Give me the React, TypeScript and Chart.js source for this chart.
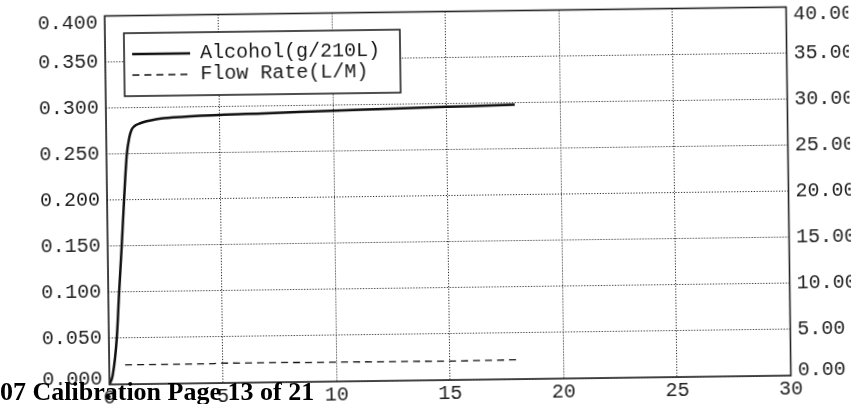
import React, { useEffect, useRef } from "react";
import { Chart, registerables } from "chart.js";

Chart.register(...registerables);

// Alcohol curve (time in seconds, g/210L)
const alcoholTime = [0, 0.15, 0.35, 0.48, 0.62, 0.75, 0.9, 1.02, 1.12, 1.25, 1.5, 2.2, 3, 5, 7, 10, 12, 14, 16, 18];
const alcoholValues = [0, 0.01, 0.05, 0.1, 0.15, 0.2, 0.25, 0.268, 0.276, 0.28, 0.283, 0.287, 0.289, 0.291, 0.292, 0.294, 0.295, 0.296, 0.297, 0.298];

// Flow rate (L/M)
const flowTime = [0.7, 4.6, 4.8, 10, 15, 18];
const flowValues = [2.1, 2.1, 2.15, 2.1, 2.05, 2.1];

// Tick values
const xTicks = [0, 5, 10, 15, 20, 25, 30];
const alcoholTicks = [0, 0.05, 0.1, 0.15, 0.2, 0.25, 0.3, 0.35, 0.4];
const flowTicks = [0, 5, 10, 15, 20, 25, 30, 35, 40];

const seriesLabels = ["Alcohol(g/210L)", "Flow Rate(L/M)"];
const pageText = "07 Calibration Page 13 of 21";

const MONO = '"Liberation Mono", "DejaVu Sans Mono", monospace';

// keeps the end labels of the value axes inside the frame (as in the reference)
const endLabelPlugin = {
  id: "endLabels",
  beforeDraw(chart: any) {
    ["y", "y2"].forEach((id) => {
      const s = chart.scales[id];
      if (!s || !s.getLabelItems) return;
      const items = s.getLabelItems();
      if (!items || !items.length) return;
      const n = items.length;
      const shift = (it: any, dy: number) => {
        if (it && it.options && it.options.translation) {
          it.options.translation = [it.options.translation[0], it.options.translation[1] + dy];
        }
      };
      if (!s.$shifted) {
        shift(items[n - 1], 7);
        shift(items[0], -5);
        s.$shifted = true;
      }
    });
  },
};

const framePlugin = {
  id: "frame",
  afterDatasetsDraw(chart: any) {
    const { ctx, chartArea } = chart;
    ctx.save();
    ctx.strokeStyle = "#222";
    ctx.lineWidth = 1.6;
    ctx.setLineDash([]);
    ctx.strokeRect(chartArea.left, chartArea.top, chartArea.right - chartArea.left, chartArea.bottom - chartArea.top);
    ctx.restore();
  },
};

const boxLegendPlugin = {
  id: "boxLegend",
  afterDraw(chart: any) {
    const { ctx, chartArea } = chart;
    const x = chartArea.left + 19;
    const y = chartArea.top + 17.5;
    const w = 276;
    const h = 63;
    ctx.save();
    ctx.fillStyle = "#fff";
    ctx.fillRect(x, y, w, h);
    ctx.strokeStyle = "#222";
    ctx.lineWidth = 1.6;
    ctx.setLineDash([]);
    ctx.strokeRect(x, y, w, h);
    chart.data.datasets.forEach((ds: any, i: number) => {
      const ry = y + 21 + i * 21;
      ctx.beginPath();
      ctx.setLineDash(ds.borderDash || []);
      ctx.lineWidth = ds.borderWidth;
      ctx.strokeStyle = ds.borderColor;
      ctx.moveTo(x + 8, ry);
      ctx.lineTo(x + 66, ry);
      ctx.stroke();
      ctx.setLineDash([]);
      ctx.fillStyle = "#1a1a1a";
      ctx.font = `20px ${MONO}`;
      ctx.textBaseline = "middle";
      ctx.textAlign = "left";
      ctx.fillText(ds.label, x + 76, ry);
    });
    ctx.restore();
  },
};

export default function App() {
  const ref = useRef<HTMLCanvasElement | null>(null);

  useEffect(() => {
    if (!ref.current) return;
    const gridColor = "rgba(20,20,20,0.9)";
    const tickFont = { family: MONO, size: 20 };
    const chart = new Chart(ref.current, {
      type: "line",
      data: {
        datasets: [
          {
            label: seriesLabels[0],
            data: alcoholTime.map((t, i) => ({ x: t, y: alcoholValues[i] })),
            borderColor: "#111",
            borderWidth: 2.5,
            pointRadius: 0,
            cubicInterpolationMode: "monotone",
            yAxisID: "y",
          },
          {
            label: seriesLabels[1],
            data: flowTime.map((t, i) => ({ x: t, y: flowValues[i] })),
            borderColor: "#111",
            borderWidth: 1.3,
            borderDash: [7, 5],
            pointRadius: 0,
            yAxisID: "y2",
          },
        ],
      },
      options: {
        responsive: false,
        animation: false,
        layout: { padding: { top: 11.5, left: 0, right: 0, bottom: 0 } },
        plugins: {
          legend: { display: false },
          tooltip: { enabled: false },
          title: { display: false },
        },
        scales: {
          x: {
            type: "linear",
            min: 0,
            max: 30,
            afterBuildTicks: (s: any) => {
              s.ticks = xTicks.map((v) => ({ value: v }));
            },
            afterFit: (s: any) => {
              s.height = 24;
            },
            ticks: { font: tickFont, color: "#222", padding: 2, maxRotation: 0, autoSkip: false },
            grid: { color: gridColor, lineWidth: 1, drawTicks: false },
            border: { display: false, dash: [1.2, 1.6] },
          },
          y: {
            type: "linear",
            position: "left",
            min: 0,
            max: 0.4,
            afterBuildTicks: (s: any) => {
              s.ticks = alcoholTicks.map((v) => ({ value: v }));
            },
            afterFit: (s: any) => {
              s.width = 107;
              s.paddingTop = 0;
              s.paddingBottom = 0;
            },
            ticks: {
              font: tickFont,
              color: "#222",
              padding: 7,
              callback: (v: any) => Number(v).toFixed(3),
            },
            grid: { color: gridColor, lineWidth: 1, drawTicks: false },
            border: { display: false, dash: [1.2, 1.6] },
          },
          y2: {
            type: "linear",
            position: "right",
            min: 0,
            max: 40,
            afterBuildTicks: (s: any) => {
              s.ticks = flowTicks.map((v) => ({ value: v }));
            },
            afterFit: (s: any) => {
              s.width = 62.5;
              s.paddingTop = 0;
              s.paddingBottom = 0;
            },
            ticks: {
              font: tickFont,
              color: "#222",
              padding: 7,
              callback: (v: any) => Number(v).toFixed(2),
            },
            grid: { display: false, drawTicks: false },
            border: { display: false },
          },
        },
      } as any,
      plugins: [endLabelPlugin, framePlugin, boxLegendPlugin],
    });
    return () => chart.destroy();
  }, []);

  return (
    <div
      style={{
        position: "fixed",
        left: 0,
        top: 0,
        width: 851,
        height: 404,
        overflow: "hidden",
        background: "#fff",
      }}
    >
      <canvas
        ref={ref}
        width={851}
        height={404}
        style={{
          position: "absolute",
          left: 0,
          top: 0,
          width: 851,
          height: 404,
          display: "block",
          transform: "rotate(-0.75deg)",
          transformOrigin: "448px 196px",
        }}
      />
      <div
        style={{
          position: "absolute",
          left: 0,
          top: 379,
          font: 'bold 26px "Liberation Serif", serif',
          lineHeight: "26px",
          whiteSpace: "nowrap",
          color: "#000",
        }}
      >
        {pageText}
      </div>
    </div>
  );
}
